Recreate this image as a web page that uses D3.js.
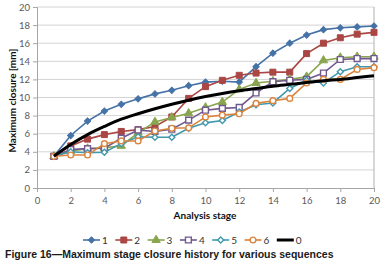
<!DOCTYPE html>
<html>
<head>
<meta charset="utf-8">
<script src="https://cdn.jsdelivr.net/npm/d3@7"></script>
<style>
  body { margin: 0; background: #fff; }
  svg { display: block; }
</style>
</head>
<body>
<svg id="chart"></svg>
<script>
// stages and series
const stages = d3.range(1, 21);
const seq1 = [3.5, 5.8, 7.4, 8.5, 9.25, 9.85, 10.4, 10.8, 11.3, 11.7, 11.8, 11.7, 13.4, 14.9, 16.0, 16.9, 17.5, 17.7, 17.8, 17.9];
const seq2 = [3.5, 4.65, 5.4, 5.9, 6.25, 6.45, 6.8, 7.85, 9.9, 11.2, 11.9, 12.45, 12.7, 12.8, 12.8, 14.85, 16.0, 16.6, 17.0, 17.2];
const seq3 = [3.5, 4.1, 4.35, 4.45, 4.65, 6.1, 7.3, 7.8, 8.25, 8.9, 9.5, 10.9, 11.6, 11.8, 12.0, 12.3, 14.1, 14.4, 14.5, 14.5];
const seq4 = [3.5, 4.25, 4.35, 4.4, 5.5, 6.4, 6.25, 6.5, 7.5, 8.6, 8.8, 8.9, 10.5, 11.75, 11.9, 12.0, 12.7, 14.2, 14.3, 14.3];
const seq5 = [3.5, 4.0, 3.9, 3.95, 4.9, 5.65, 5.6, 5.6, 6.6, 7.2, 7.45, 8.4, 9.2, 9.4, 11.0, 11.9, 11.6, 12.85, 13.4, 13.4];
const seq6 = [3.5, 3.65, 3.65, 4.9, 5.2, 5.2, 6.3, 6.6, 6.65, 7.85, 8.05, 8.2, 9.35, 9.65, 9.9, 11.6, 12.0, 12.0, 13.1, 13.3];
const seq0 = [3.5, 4.8, 5.9, 6.8, 7.6, 8.2, 8.75, 9.25, 9.7, 10.1, 10.45, 10.75, 11.0, 11.25, 11.45, 11.65, 11.85, 12.0, 12.2, 12.4];
const xTicks = d3.range(0, 21, 2);
const yTicks = d3.range(0, 21, 2);
const seriesNames = ["1", "2", "3", "4", "5", "6", "0"];

const width = 387, height = 277;
const plot = { left: 37, right: 374, top: 7, bottom: 188 };

const svg = d3.select("#chart").attr("width", width).attr("height", height);

const x = d3.scaleLinear().domain([0, 20]).range([plot.left, plot.right]);
const y = d3.scaleLinear().domain([0, 20]).range([plot.bottom, plot.top]);

// gridlines
svg.append("g")
  .selectAll("line")
  .data(yTicks.filter(d => d > 0))
  .join("line")
  .attr("x1", plot.left).attr("x2", plot.right)
  .attr("y1", d => y(d)).attr("y2", d => y(d))
  .attr("stroke", "#d4d4d4").attr("stroke-width", 1);

// right border of plot area
svg.append("line")
  .attr("x1", plot.right).attr("x2", plot.right)
  .attr("y1", plot.top).attr("y2", plot.bottom)
  .attr("stroke", "#b0b0b0");

// axes
const xAxis = svg.append("g")
  .attr("transform", `translate(0,${plot.bottom})`)
  .call(d3.axisBottom(x).tickValues(xTicks).tickSize(4).tickPadding(5));
const yAxis = svg.append("g")
  .attr("transform", `translate(${plot.left},0)`)
  .call(d3.axisLeft(y).tickValues(yTicks).tickSize(4).tickPadding(3));
[xAxis, yAxis].forEach(a => {
  a.select(".domain").attr("stroke", "#a6a6a6");
  a.selectAll(".tick line").attr("stroke", "#a6a6a6");
  a.selectAll("text")
    .attr("fill", "#595959")
    .style("font-family", "Lato, 'Open Sans', sans-serif")
    .style("font-size", "9.5px");
});

// axis titles
svg.append("text")
  .attr("transform", `translate(16,${(plot.top + plot.bottom) / 2 + 3}) rotate(-90)`)
  .attr("text-anchor", "middle")
  .style("font-family", "Lato, sans-serif")
  .style("font-weight", "bold")
  .style("font-size", "10px")
  .attr("fill", "#111")
  .text("Maximum closure [mm]");
svg.append("text")
  .attr("x", 205).attr("y", 219)
  .attr("text-anchor", "middle")
  .style("font-family", "Lato, sans-serif")
  .style("font-weight", "bold")
  .style("font-size", "10px")
  .attr("fill", "#111")
  .text("Analysis stage");

// series styling
const series = [
  { name: "1", values: seq1, color: "#4572A7", shape: "diamond", fill: true },
  { name: "2", values: seq2, color: "#AA4643", shape: "square", fill: true },
  { name: "3", values: seq3, color: "#89A54E", shape: "triangle", fill: true },
  { name: "4", values: seq4, color: "#71588F", shape: "square", fill: false },
  { name: "5", values: seq5, color: "#4198AF", shape: "diamond", fill: false },
  { name: "6", values: seq6, color: "#DB843D", shape: "circle", fill: false },
  { name: "0", values: seq0, color: "#000000", shape: null, fill: false },
];

function markerPath(shape, open) {
  if (shape === "diamond") return d3.symbol(d3.symbolSquare, open ? 18 : 20)();
  if (shape === "square") return d3.symbol(d3.symbolSquare, open ? 34 : 36)();
  if (shape === "triangle") return d3.symbol(d3.symbolTriangle, 30)();
  if (shape === "circle") return d3.symbol(d3.symbolCircle, 26)();
  return null;
}
function markerTransform(shape, cx, cy) {
  return `translate(${cx},${cy})` + (shape === "diamond" ? " rotate(45)" : "");
}

const line = d3.line()
  .x((d, i) => x(stages[i]))
  .y(d => y(d));
const smooth = d3.line()
  .x((d, i) => x(stages[i]))
  .y(d => y(d))
  .curve(d3.curveCatmullRom);

const container = svg.append("g");
series.forEach(s => {
  const g = container.append("g");
  if (s.shape === null) {
    g.append("path")
      .attr("d", smooth(s.values))
      .attr("fill", "none")
      .attr("stroke", s.color)
      .attr("stroke-width", 3);
    return;
  }
  g.append("path")
    .attr("d", line(s.values))
    .attr("fill", "none")
    .attr("stroke", s.color)
    .attr("stroke-width", 1.6);
  g.selectAll("path.marker")
    .data(s.values)
    .join("path")
    .attr("class", "marker")
    .attr("d", markerPath(s.shape, !s.fill))
    .attr("transform", (d, i) => markerTransform(s.shape, x(stages[i]), y(d)))
    .attr("fill", s.fill ? s.color : "#fff")
    .attr("stroke", s.color)
    .attr("stroke-width", s.fill ? 1 : 1.4);
});

// legend
const legend = svg.append("g").attr("transform", "translate(83,240)");
const item = legend.selectAll("g")
  .data(series)
  .join("g")
  .attr("transform", (d, i) => `translate(${i * 32.3},0)`);
item.append("line")
  .attr("x1", 0).attr("x2", 17)
  .attr("stroke", d => d.color)
  .attr("stroke-width", d => d.shape === null ? 3 : 1.6);
item.filter(d => d.shape !== null)
  .append("path")
  .attr("d", d => markerPath(d.shape, !d.fill))
  .attr("transform", d => markerTransform(d.shape, 8.5, 0))
  .attr("fill", d => d.fill ? d.color : "#fff")
  .attr("stroke", d => d.color)
  .attr("stroke-width", d => d.fill ? 1 : 1.4);
item.append("text")
  .attr("x", 19).attr("y", 3.5)
  .style("font-family", "Lato, sans-serif")
  .style("font-size", "10px")
  .attr("fill", "#333")
  .text(d => d.name);

// caption
svg.append("text")
  .attr("x", 5).attr("y", 258)
  .style("font-family", "'Liberation Sans', Arial, sans-serif")
  .style("font-weight", "bold")
  .style("font-size", "10.5px")
  .attr("fill", "#1a1a1a")
  .text("Figure 16\u2014Maximum stage closure history for various sequences");
</script>
</body>
</html>
